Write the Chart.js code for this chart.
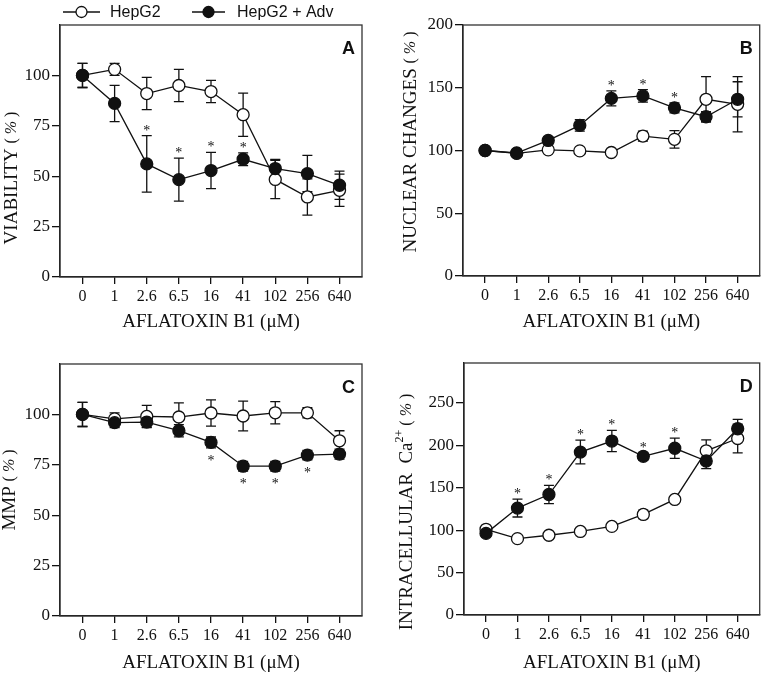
<!DOCTYPE html>
<html>
<head>
<meta charset="utf-8">
<script src="https://cdn.jsdelivr.net/npm/chart.js@4.4.1/dist/chart.umd.min.js"></script>
<style>
  body { margin: 0; background: #fff; width: 767px; height: 675px; position: relative; overflow: hidden; }
  canvas { position: absolute; }
</style>
</head>
<body>
<canvas id="cA" width="384" height="337" style="left:0;top:0"></canvas>
<canvas id="cB" width="383" height="337" style="left:384px;top:0"></canvas>
<canvas id="cC" width="384" height="338" style="left:0;top:337px"></canvas>
<canvas id="cD" width="383" height="338" style="left:384px;top:337px"></canvas>
<script>
// aflatoxin B1 doses (µM), shared by all panels
const doses = ['0', '1', '2.6', '6.5', '16', '41', '102', '256', '640'];

// A - viability
const viaHep    = [100, 103, 91, 95, 92, 80.5, 48.4, 39.7, 43];
const viaHepErr = [6, 3, 8, 8, 5.5, 10.7, 9.5, 9, 8];
const viaAdv    = [100, 86.1, 56.1, 48.3, 52.8, 58.4, 53.8, 51.3, 45.5];
const viaAdvErr = [6, 9, 14, 10.7, 9, 3.2, 4.5, 9, 7];
const viaSig    = [0, 0, 1, 1, 1, 1, 0, 0, 0];
const viaTicks  = [0, 25, 50, 75, 100];

// B - nuclear changes
const nucHep    = [100, 97.7, 100.5, 99.7, 98.4, 111.5, 108.9, 140.8, 136.8];
const nucHepErr = [1, 1, 2, 1.5, 2, 4, 7, 18, 22];
const nucAdv    = [100, 98, 108, 120, 141.5, 143.5, 134, 126.9, 140.8];
const nucAdvErr = [1.5, 1.5, 3, 4.5, 6, 5, 4, 4, 14];
const nucSig    = [0, 0, 0, 0, 1, 1, 1, 0, 0];
const nucTicks  = [0, 50, 100, 150, 200];

// C - MMP
const mmpHep    = [100, 97.8, 99, 98.7, 100.7, 99.2, 100.8, 100.8, 86.9];
const mmpHepErr = [6, 3, 5.5, 7, 6.5, 7.4, 5.5, 2.5, 5];
const mmpAdv    = [100, 95.9, 96.2, 91.9, 86.1, 74.3, 74.3, 79.8, 80.3];
const mmpAdvErr = [6, 2.5, 2.5, 3, 2.7, 2.4, 2.4, 2.3, 2.5];
const mmpSig    = [0, 0, 0, 0, 1, 1, 1, 1, 0];
const mmpTicks  = [0, 25, 50, 75, 100];

// D - intracellular Ca2+
const caHep    = [101, 90, 94, 98.5, 104.4, 118.5, 136.2, 193.5, 208];
const caHepErr = [2, 2, 2, 2, 2, 5, 3, 13, 17];
const caAdv    = [96.2, 126, 142, 192, 205, 187, 196.5, 181.5, 219.5];
const caAdvErr = [3, 10.5, 10.8, 14, 12.5, 4.5, 12, 9, 11];
const caSig    = [0, 1, 1, 1, 1, 1, 1, 0, 0];
const caTicks  = [0, 50, 100, 150, 200, 250];

const SERIF = '"Liberation Serif", "Times New Roman", serif';
const SANS = '"Liberation Sans", Arial, sans-serif';
const INK = '#111';

// box, error bars, asterisks, letter, y title
const decor = {
  id: 'decor',
  beforeDatasetsDraw(chart, args, o) {
    const ctx = chart.ctx, a = chart.chartArea;
    const x = chart.scales.x, y = chart.scales.y;
    ctx.save();
    ctx.strokeStyle = '#333';
    ctx.lineWidth = 1.3;
    ctx.strokeRect(a.left, a.top, a.right - a.left, a.bottom - a.top);
    ctx.strokeStyle = INK;
    [[o.hep, o.hepErr], [o.adv, o.advErr]].forEach(([vals, errs]) => {
      vals.forEach((v, i) => {
        const px = x.getPixelForValue(i);
        const y1 = y.getPixelForValue(v + errs[i]);
        const y2 = y.getPixelForValue(v - errs[i]);
        ctx.beginPath();
        ctx.moveTo(px, y1); ctx.lineTo(px, y2);
        ctx.moveTo(px - 5, y1); ctx.lineTo(px + 5, y1);
        ctx.moveTo(px - 5, y2); ctx.lineTo(px + 5, y2);
        ctx.stroke();
      });
    });
    ctx.restore();
  },
  afterDraw(chart, args, o) {
    const ctx = chart.ctx, a = chart.chartArea;
    const x = chart.scales.x, y = chart.scales.y;
    ctx.save();
    ctx.fillStyle = INK;
    // significance marks
    ctx.font = '14px ' + SERIF;
    ctx.textAlign = 'center';
    ctx.textBaseline = 'alphabetic';
    o.sig.forEach((s, i) => {
      if (!s) return;
      const px = x.getPixelForValue(i);
      if (o.below) ctx.fillText('*', px, y.getPixelForValue(o.adv[i] - o.advErr[i]) + 17);
      else ctx.fillText('*', px, y.getPixelForValue(o.adv[i] + o.advErr[i]) - 1);
    });
    // panel letter
    ctx.font = 'bold 18px ' + SANS;
    ctx.textAlign = 'right';
    ctx.textBaseline = 'middle';
    ctx.fillText(o.letter, a.right - 7, a.top + 24);
    // y axis title
    ctx.translate(o.tx, o.ty);
    ctx.rotate(-Math.PI / 2);
    ctx.textAlign = 'left';
    const fontOf = p => (p.it ? 'italic ' : '') + (p.size || 19) + 'px ' + SERIF;
    let w = 0;
    o.title.forEach(p => { ctx.font = fontOf(p); w += ctx.measureText(p.t).width; });
    let cx = -w / 2;
    o.title.forEach(p => {
      ctx.font = fontOf(p);
      ctx.fillText(p.t, cx, p.up || 0);
      cx += ctx.measureText(p.t).width;
    });
    ctx.restore();
  }
};

// legend drawn in the top strip of panel A
const legendStrip = {
  id: 'legendStrip',
  afterDraw(chart) {
    const ctx = chart.ctx;
    const yc = 12;
    const items = [
      { x0: 63, x1: 100, label: 'HepG2', ds: chart.data.datasets[1], tx: 110 },
      { x0: 192, x1: 225, label: 'HepG2 + Adv', ds: chart.data.datasets[0], tx: 237 }
    ];
    ctx.save();
    items.forEach(it => {
      ctx.strokeStyle = INK;
      ctx.lineWidth = 1.3;
      ctx.beginPath(); ctx.moveTo(it.x0, yc); ctx.lineTo(it.x1, yc); ctx.stroke();
      ctx.beginPath();
      ctx.arc((it.x0 + it.x1) / 2, yc, 5.5, 0, Math.PI * 2);
      ctx.fillStyle = it.ds.pointBackgroundColor;
      ctx.fill(); ctx.stroke();
      ctx.fillStyle = INK;
      ctx.font = '16px ' + SANS;
      ctx.textBaseline = 'middle';
      ctx.fillText(it.label, it.tx, yc + 1);
    });
    ctx.restore();
  }
};

function makePanel(id, p, g) {
  const series = (vals, fill, order) => ({
    data: vals.map((v, i) => ({ x: i, y: v })),
    borderColor: INK,
    borderWidth: 1.3,
    pointRadius: 6,
    pointHoverRadius: 6,
    pointBorderWidth: 1.3,
    pointBorderColor: INK,
    pointBackgroundColor: fill,
    tension: 0,
    order: order
  });
  const plugins = [decor];
  if (g.legend) plugins.push(legendStrip);
  return new Chart(document.getElementById(id), {
    type: 'line',
    data: { datasets: [series(p.adv, INK, 0), series(p.hep, '#fff', 1)] },
    plugins: plugins,
    options: {
      responsive: false,
      animation: false,
      events: [],
      layout: { padding: { top: g.top, right: g.right, left: 0, bottom: 0 } },
      plugins: {
        legend: { display: false },
        tooltip: { enabled: false },
        decor: Object.assign({}, p, { tx: g.tx, ty: g.ty })
      },
      scales: {
        x: {
          type: 'linear', min: -0.7, max: 8.7,
          afterBuildTicks: s => { s.ticks = doses.map((d, i) => ({ value: i })); },
          afterFit: s => { s.height = g.xh; },
          grid: { drawOnChartArea: false, tickLength: 7, color: INK, lineWidth: 1.3 },
          border: { color: INK, width: 1.3 },
          ticks: {
            callback: (v, i) => doses[i],
            font: { family: SERIF, size: 16 }, color: INK, padding: 3,
            maxRotation: 0, autoSkip: false
          },
          title: {
            display: true, text: 'AFLATOXIN B1 (μM)', color: INK,
            font: { family: SERIF, size: 19 }, padding: { top: 0, bottom: g.xpb }
          }
        },
        y: {
          min: 0, max: p.yMax,
          afterBuildTicks: s => { s.ticks = p.ticks.map(v => ({ value: v })); },
          afterFit: s => { s.width = g.yw; },
          grid: { drawOnChartArea: false, tickLength: 8, color: INK, lineWidth: 1.3 },
          border: { color: INK, width: 1.3 },
          ticks: { font: { family: SERIF, size: 17 }, color: INK, padding: 2 }
        }
      }
    }
  });
}

makePanel('cA', {
  hep: viaHep, hepErr: viaHepErr, adv: viaAdv, advErr: viaAdvErr, sig: viaSig,
  ticks: viaTicks, yMax: 125, letter: 'A', below: false,
  title: [{ t: 'VIABILITY ' }, { t: '( ', size: 16 }, { t: '%', size: 16, it: true }, { t: ' )', size: 16 }]
}, { top: 25, right: 22, yw: 60, xh: 60, xpb: 3.6, tx: 12, ty: 178, legend: true });

makePanel('cB', {
  hep: nucHep, hepErr: nucHepErr, adv: nucAdv, advErr: nucAdvErr, sig: nucSig,
  ticks: nucTicks, yMax: 200, letter: 'B', below: false,
  title: [{ t: 'NUCLEAR CHANGES ' }, { t: '( ', size: 16 }, { t: '%', size: 16, it: true }, { t: ' )', size: 16 }]
}, { top: 25, right: 2, yw: 79, xh: 61, xpb: 3.6, tx: 27, ty: 142 });

makePanel('cC', {
  hep: mmpHep, hepErr: mmpHepErr, adv: mmpAdv, advErr: mmpAdvErr, sig: mmpSig,
  ticks: mmpTicks, yMax: 125, letter: 'C', below: true,
  title: [{ t: 'MMP ' }, { t: '( ', size: 16 }, { t: '%', size: 16, it: true }, { t: ' )', size: 16 }]
}, { top: 27, right: 22, yw: 60, xh: 59, xpb: 0.6, tx: 10, ty: 153 });

makePanel('cD', {
  hep: caHep, hepErr: caHepErr, adv: caAdv, advErr: caAdvErr, sig: caSig,
  ticks: caTicks, yMax: 297, letter: 'D', below: false,
  title: [{ t: 'INTRACELLULAR  Ca' }, { t: '2+', size: 12, up: -7 }, { t: ' ( ', size: 16 }, { t: '%', size: 16, it: true }, { t: ' )', size: 16 }]
}, { top: 26, right: 2, yw: 80, xh: 60, xpb: 0.6, tx: 23, ty: 175 });
</script>
</body>
</html>
